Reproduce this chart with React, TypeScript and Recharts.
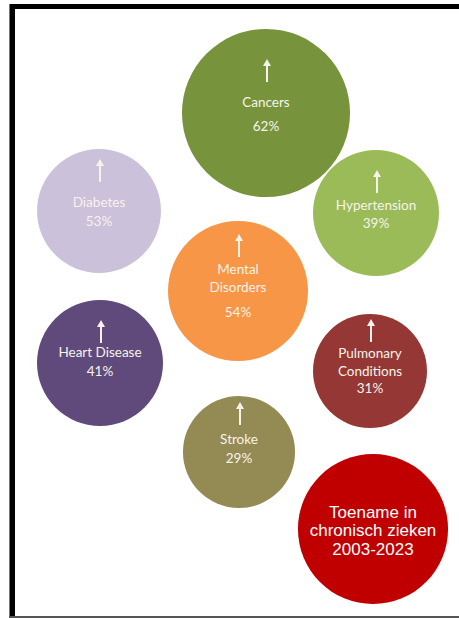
import React from "react";
import { ScatterChart, Scatter, XAxis, YAxis, ZAxis, Cell } from "recharts";

// ---- data ----
const categories = ["Cancers", "Hypertension", "Diabetes", "Mental Disorders", "Heart Disease", "Pulmonary Conditions", "Stroke", "Toename in chronisch zieken 2003-2023"];
const labelLines = [["Cancers"], ["Hypertension"], ["Diabetes"], ["Mental", "Disorders"], ["Heart Disease"], ["Pulmonary", "Conditions"], ["Stroke"], ["Toename in", "chronisch zieken", "2003-2023"]];
const increasePct = [62, 39, 53, 54, 41, 31, 29, null];
const bubbleX = [266, 376, 99, 238, 100, 370, 239, 373];
const bubbleY = [113, 213, 211, 291, 363, 371, 452, 529];
const bubbleSize = [70.6, 39.7, 38.4, 49, 39.7, 32.5, 31.4, 56.3];

// ---- styles ----
const colors = ["#77933c", "#9bbb59", "#ccc1da", "#f79646", "#604a7b", "#953735", "#948a54", "#c00000"];
const firstLineDy = [-11, -8, -9, -22, -11, -18, -13, -17];
const pctGap = [24, 18, 19, 25, 19, 17, 19, 0];
const arrowGap = [20, 12, 20, 12, 9, 11, 14, 0];

const data = categories.map((c, i) => ({
  name: c,
  x: bubbleX[i],
  y: bubbleY[i],
  z: bubbleSize[i],
  idx: i,
}));

const Bubble = (props: any) => {
  const { cx, cy, fill, payload } = props;
  const r = props.width ? props.width / 2 : Math.sqrt((props.size || 0) / Math.PI);
  const i = payload.idx;
  const lines = labelLines[i];
  const isTitle = increasePct[i] === null;
  const lh = isTitle ? 18.5 : 18;
  const y0 = cy + firstLineDy[i];
  const arrowBottom = y0 - arrowGap[i];
  const arrowTop = arrowBottom - 23;
  const textColor = "#f6f3ea";
  return (
    <g>
      <circle cx={cx} cy={cy} r={r} fill={fill} />
      {!isTitle && (
        <g>
          <line x1={cx + 1} y1={arrowTop + 5} x2={cx + 1} y2={arrowBottom} stroke={textColor} strokeWidth={2} />
          <polygon points={`${cx + 1},${arrowTop} ${cx - 3},${arrowTop + 7} ${cx + 5},${arrowTop + 7}`} fill={textColor} />
        </g>
      )}
      {lines.map((t, k) => (
        <text
          key={k}
          x={cx}
          y={y0 + k * lh}
          textAnchor="middle"
          dominantBaseline="central"
          fill={isTitle ? "#ffffff" : textColor}
          fontFamily={isTitle ? "Liberation Sans, Arial, sans-serif" : "Lato, sans-serif"}
          fontSize={isTitle ? 17 : 13.5}
        >
          {t}
        </text>
      ))}
      {!isTitle && (
        <text
          x={cx}
          y={y0 + (lines.length - 1) * lh + pctGap[i]}
          textAnchor="middle"
          dominantBaseline="central"
          fill={textColor}
          fontFamily="Lato, sans-serif"
          fontSize={13.5}
        >
          {increasePct[i]}%
        </text>
      )}
    </g>
  );
};

export default function App() {
  return (
    <div style={{ position: "absolute", left: 0, top: 0, width: 459, height: 618, background: "#ffffff", overflow: "hidden" }}>
      <ScatterChart width={459} height={618} margin={{ top: 0, right: 0, bottom: 0, left: 0 }}>
        <XAxis type="number" dataKey="x" domain={[0, 459]} hide />
        <YAxis type="number" dataKey="y" domain={[0, 618]} reversed hide />
        <ZAxis type="number" dataKey="z" domain={[0, 100]} range={[0, 10000 * Math.PI]} />
        <Scatter data={data} shape={<Bubble />} isAnimationActive={false}>
          {data.map((d, i) => (
            <Cell key={i} fill={colors[i]} />
          ))}
        </Scatter>
      </ScatterChart>
      <div style={{ position: "absolute", left: 10, top: 4, width: 449, height: 5, background: "#000" }} />
      <div style={{ position: "absolute", left: 9, top: 4, width: 1, height: 614, background: "#777" }} />
      <div style={{ position: "absolute", left: 10, top: 4, width: 5, height: 613, background: "#000" }} />
      <div style={{ position: "absolute", left: 9, top: 616, width: 450, height: 2, background: "#555" }} />
    </div>
  );
}
